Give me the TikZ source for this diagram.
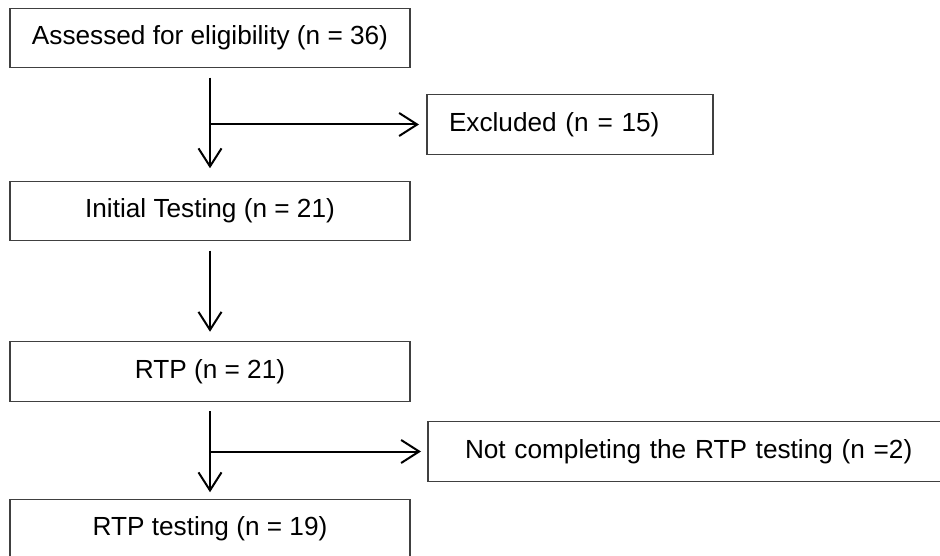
\documentclass[tikz,border=0pt]{standalone}
\usepackage{fontspec}
\setmainfont{Liberation Sans}
\usepackage{tikz}
\usetikzlibrary{arrows.meta, positioning}

\tikzset{
  flowbox/.style={draw=black!75, line width=1.4pt, inner sep=0pt, outer sep=0pt,
    minimum height=59.5pt, font=\fontsize{26.2}{30}\selectfont},
  arr/.style={draw=black, line width=2pt, -{Straight Barb[length=18pt,width=23pt,line width=2pt]}}
}

\begin{document}
\begin{tikzpicture}[x=1pt,y=1pt]
\useasboundingbox (0,0) rectangle (940,-556);
\node[flowbox, minimum width=400pt] (assess) at (210,-38) {Assessed for eligibility (n = 36)};
\node[flowbox, inner xsep=22pt, text width=242pt, align=left] (excl) at (570,-124.5) {Excluded (n = 15)};
\node[flowbox, minimum width=400pt] (init) at (210,-211) {Initial Testing (n = 21)};
\node[flowbox, minimum width=400pt] (rtp) at (210,-371.5) {RTP (n = 21)};
\node[flowbox, inner xsep=37pt, text width=520pt, align=left] (notcomp) at (725,-451.5) {Not completing the RTP testing (n =2)};
\node[flowbox, minimum width=400pt] (rtptest) at (210,-529) {RTP testing (n = 19)};

\coordinate (br1) at (assess.south |- excl.west);
\coordinate (br2) at (rtp.south |- notcomp.west);

\draw[arr, shorten <=10pt, shorten >=13pt] (assess) -- (init);
\draw[arr, shorten >=8pt] (br1) -- (excl.west);
\draw[arr, shorten <=10pt, shorten >=10pt] (init) -- (rtp);
\draw[arr, shorten <=10pt, shorten >=7pt] (rtp) -- (rtptest);
\draw[arr, shorten >=7pt] (br2) -- (notcomp.west);
\end{tikzpicture}
\end{document}
